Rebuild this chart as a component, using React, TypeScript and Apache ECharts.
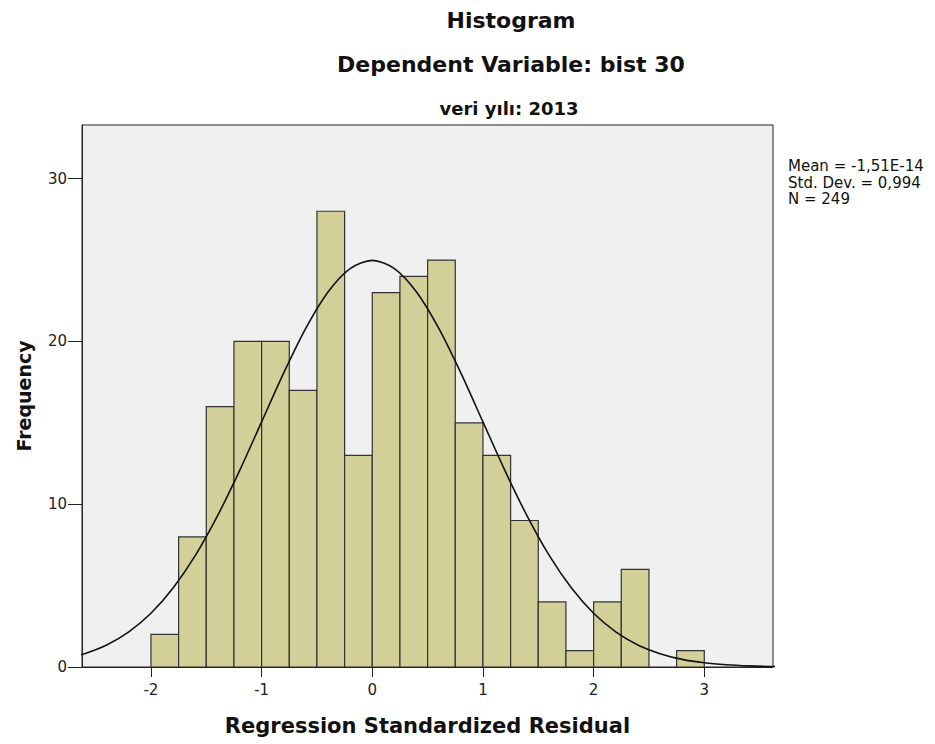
import React, { useEffect, useRef } from "react";
import * as echarts from "echarts";

// Histogram bins (lower edge) and frequencies
const binLow = [-2, -1.75, -1.5, -1.25, -1, -0.75, -0.5, -0.25, 0, 0.25, 0.5, 0.75, 1, 1.25, 1.5, 1.75, 2, 2.25, 2.5, 2.75];
const counts = [2, 8, 16, 20, 20, 17, 28, 13, 23, 24, 25, 15, 13, 9, 4, 1, 4, 6, 0, 1];
const BIN_WIDTH = 0.25;

// Normal curve
const curveX = [-2.8, -2.6, -2.4, -2.2, -2.0, -1.8, -1.6, -1.4, -1.2, -1.0, -0.8, -0.6, -0.4, -0.2, 0, 0.2, 0.4, 0.6, 0.8, 1.0, 1.2, 1.4, 1.6, 1.8, 2.0, 2.2, 2.4, 2.6, 2.8, 3.0, 3.2, 3.4, 3.6, 3.8];
const curveY = [0.47, 0.82, 1.35, 2.16, 3.3, 4.85, 6.84, 9.27, 12.05, 15.06, 18.07, 20.82, 23.04, 24.48, 24.98, 24.48, 23.04, 20.82, 18.07, 15.06, 12.05, 9.27, 6.84, 4.85, 3.3, 2.16, 1.35, 0.82, 0.47, 0.26, 0.14, 0.07, 0.035, 0.02];

const xTicks = [-2, -1, 0, 1, 2, 3];
const yTicks = [0, 10, 20, 30];

const titleMain = "Histogram";
const titleSub = "Dependent Variable: bist 30";
const titleSub2 = "veri yılı: 2013";
const statsLines = ["Mean = -1,51E-14", "Std. Dev. = 0,994", "N = 249"];

const FONT = '"DejaVu Sans", Verdana, sans-serif';

export default function App() {
  const ref = useRef<HTMLDivElement>(null);
  useEffect(() => {
    if (!ref.current) return;
    const chart = echarts.init(ref.current, null, { renderer: "svg" });
    const barData = binLow.map((lo, i) => [lo, lo + BIN_WIDTH, counts[i]]);
    chart.setOption({
      animation: false,
      backgroundColor: "#ffffff",
      grid: {
        left: 82,
        top: 125,
        right: 162,
        bottom: 77,
        outerBoundsMode: "none",
        containLabel: false,
        show: true,
        backgroundColor: "#f0f0f0",
        borderColor: "#222",
        borderWidth: 1,
      },
      xAxis: {
        type: "value",
        min: -2.623,
        max: 3.621,
        name: "Regression Standardized Residual",
        nameLocation: "middle",
        nameGap: 48,
        nameTextStyle: { fontFamily: FONT, fontWeight: "bold", fontSize: 21, color: "#111" },
        axisLine: { show: true, onZero: false, lineStyle: { color: "#222", width: 1 } },
        axisTick: { show: true, customValues: xTicks, length: 10, lineStyle: { color: "#222", width: 1 } },
        axisLabel: { customValues: xTicks, fontFamily: FONT, fontSize: 15, color: "#222", margin: 15 },
        splitLine: { show: false },
      },
      yAxis: {
        type: "value",
        min: 0,
        max: 33.3,
        name: "Frequency",
        nameLocation: "middle",
        nameRotate: 90,
        nameGap: 49,
        nameTextStyle: { fontFamily: FONT, fontWeight: "bold", fontSize: 19, color: "#111" },
        axisLine: { show: true, onZero: false, lineStyle: { color: "#222", width: 1 } },
        axisTick: { show: true, customValues: yTicks, length: 14, lineStyle: { color: "#222", width: 1 } },
        axisLabel: { customValues: yTicks, fontFamily: FONT, fontSize: 15, color: "#222", margin: 15 },
        splitLine: { show: false },
      },
      graphic: [
        {
          type: "text",
          x: 511,
          y: 20,
          style: { text: titleMain, font: `bold 22px ${FONT}`, fill: "#111", textAlign: "center", textVerticalAlign: "middle" },
        },
        {
          type: "text",
          x: 511,
          y: 64,
          style: { text: titleSub, font: `bold 22px ${FONT}`, fill: "#111", textAlign: "center", textVerticalAlign: "middle" },
        },
        {
          type: "text",
          x: 509,
          y: 108,
          style: { text: titleSub2, font: `bold 18px ${FONT}`, fill: "#111", textAlign: "center", textVerticalAlign: "middle" },
        },
        {
          type: "text",
          x: 788,
          y: 158,
          style: { text: statsLines.join("\n"), font: `15px ${FONT}`, lineHeight: 16.5, fill: "#111", textAlign: "left", textVerticalAlign: "top" },
        },
      ],
      series: [
        {
          type: "custom",
          data: barData,
          clip: true,
          renderItem: (params: any, api: any) => {
            const lo = api.value(0);
            const hi = api.value(1);
            const c = api.value(2);
            if (!c) return null;
            const p0 = api.coord([lo, c]);
            const p1 = api.coord([hi, 0]);
            return {
              type: "rect",
              shape: { x: p0[0], y: p0[1], width: p1[0] - p0[0], height: p1[1] - p0[1] },
              style: { fill: "#d3cf98", stroke: "#333", lineWidth: 1.2 },
            };
          },
          encode: { x: [0, 1], y: 2 },
          z: 2,
        },
        {
          type: "line",
          data: curveX.map((x, i) => [x, curveY[i]]),
          smooth: 0.3,
          symbol: "none",
          clip: true,
          lineStyle: { color: "#111", width: 1.6 },
          z: 3,
        },
      ],
    });
    return () => chart.dispose();
  }, []);
  return <div ref={ref} style={{ position: "fixed", left: 0, top: 0, width: 935, height: 744 }} />;
}
